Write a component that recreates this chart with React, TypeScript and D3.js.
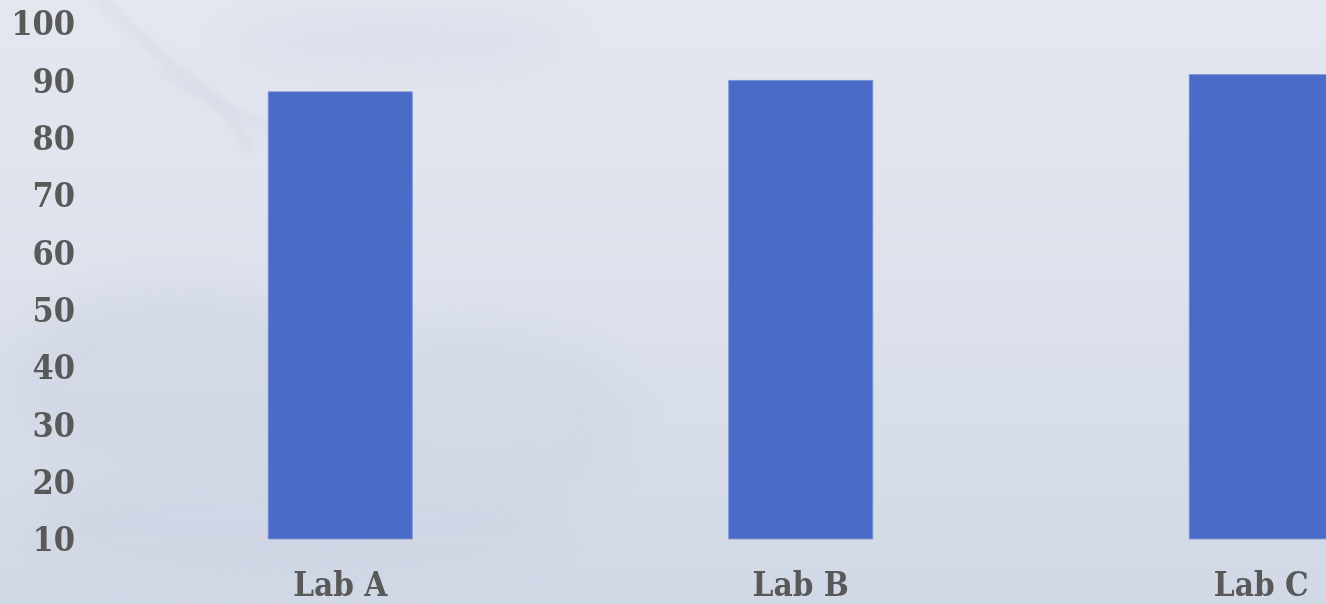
import React from "react";
import * as d3 from "d3";

const categories: string[] = ["Lab A", "Lab B", "Lab C"];
const values: number[] = [88, 90, 91];
const yTicks: number[] = [10, 20, 30, 40, 50, 60, 70, 80, 90, 100];

const W = 1326;
const H = 604;
const FONT = "'DejaVu Serif Condensed', 'DejaVu Serif', serif";

export default function App() {
  const x = d3
    .scaleBand<string>()
    .domain(categories)
    .range([110, 1491.5])
    .paddingInner(0.687)
    .paddingOuter(0.3435);
  const y = d3.scaleLinear().domain([10, 100]).range([539, 23]);

  const branch1 = d3.line().curve(d3.curveBasis)([
    [95, -5], [140, 40], [190, 80], [230, 110], [250, 150],
  ] as [number, number][]) as string;
  const branch2 = d3.line().curve(d3.curveBasis)([
    [160, 70], [200, 95], [240, 115], [270, 130],
  ] as [number, number][]) as string;

  return (
    <svg
      width={W}
      height={H}
      style={{ position: "fixed", left: 0, top: 0, display: "block" }}
    >
      <defs>
        <linearGradient id="bg" x1="0" y1="0" x2="0" y2="1">
          <stop offset="0" stopColor="#e3e7f0" />
          <stop offset="0.45" stopColor="#dde2ec" />
          <stop offset="1" stopColor="#d1d8e6" />
        </linearGradient>
        <filter id="blur" x="-20%" y="-20%" width="140%" height="140%">
          <feGaussianBlur stdDeviation="5" />
        </filter>
        <filter id="blur2" x="-20%" y="-20%" width="140%" height="140%">
          <feGaussianBlur stdDeviation="18" />
        </filter>
      </defs>
      <rect x={0} y={0} width={W} height={H} fill="url(#bg)" />
      {/* faint background scenery */}
      <g opacity={0.45}>
        <path d={branch1} stroke="#c6ccd9" strokeWidth={6} fill="none" filter="url(#blur)" />
        <path d={branch2} stroke="#c6ccd9" strokeWidth={5} fill="none" filter="url(#blur)" />
        <ellipse cx={400} cy={40} rx={170} ry={35} fill="#d5dbe8" filter="url(#blur2)" />
        <ellipse cx={180} cy={380} rx={170} ry={90} fill="#cbd2e1" filter="url(#blur2)" />
        <ellipse cx={470} cy={420} rx={160} ry={90} fill="#cdd4e2" filter="url(#blur2)" />
        <ellipse cx={300} cy={520} rx={260} ry={60} fill="#cbd2e1" filter="url(#blur2)" />
      </g>

      {/* baseline */}
      <line x1={110} x2={W} y1={y(10)} y2={y(10)} stroke="#d9d9d9" strokeWidth={1.5} />

      {/* bars */}
      {categories.map((c, i) => (
        <rect
          key={c}
          x={x(c)}
          y={y(values[i])}
          width={x.bandwidth()}
          height={y(10) - y(values[i])}
          fill="#4a6bc8"
          stroke="#7f97d8"
          strokeWidth={0.8}
        />
      ))}

      {/* y tick labels */}
      {yTicks.map((t) => (
        <text
          key={t}
          x={75}
          y={y(t)}
          dy="0.36em"
          textAnchor="end"
          fontFamily={FONT}
          fontStretch="condensed"
          fontWeight="bold"
          fontSize={34}
          fill="#595959"
        >
          {t}
        </text>
      ))}

      {/* x labels */}
      {categories.map((c) => (
        <text
          key={c}
          x={(x(c) as number) + x.bandwidth() / 2}
          y={596}
          textAnchor="middle"
          fontFamily={FONT}
          fontStretch="condensed"
          fontWeight="bold"
          fontSize={33}
          fill="#595959"
        >
          {c}
        </text>
      ))}
    </svg>
  );
}
